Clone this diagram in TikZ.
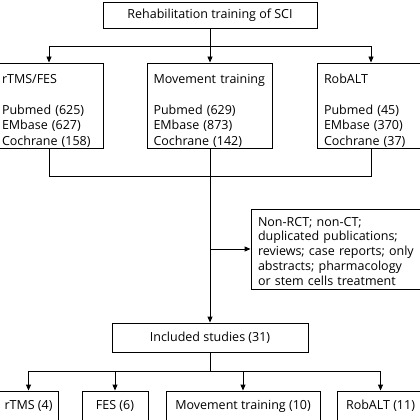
\documentclass[tikz,border=0pt]{standalone}
\usepackage{fontspec}
\setmainfont{Open Sans}
\usetikzlibrary{arrows.meta}
\newcommand\topgap[1]{\rule{0pt}{#1}}
\newcommand\nohyph{\hyphenpenalty10000\relax}
\tikzset{
	box/.style={draw,rectangle,inner sep=0pt,font=\fontsize{12.5}{15.5}\selectfont\nohyph},
	src/.style={box,align=left,inner xsep=7pt,minimum height=85pt},
	res/.style={box,minimum height=30pt}
}

\begin{document}
\begin{tikzpicture}[x=1pt,y=-1pt,line width=0.9pt,>={Triangle[length=6pt,width=5pt]}]
	\useasboundingbox (0,0) rectangle (420,420);
	\node[box,minimum width=214pt,minimum height=26pt] (top) at (210,15) {Rehabilitation training of SCI};
	\node[src,text width=94pt] (src1) at (49,105.5) {\topgap{19pt}rTMS/FES\\[15.5pt]Pubmed~(625)\\EMbase~(627)\\Cochrane~(158)};
	\node[src,text width=113pt,inner xsep=6pt] (src2) at (210,105.5) {\topgap{19pt}Movement~training\\[15.5pt]Pubmed~(629)\\EMbase~(873)\\Cochrane~(142)};
	\node[src,text width=94pt] (src3) at (371,105.5) {\topgap{19pt}RobALT\\[15.5pt]Pubmed~(45)\\EMbase~(370)\\Cochrane~(37)};
	\node[box,align=left,inner xsep=7pt,text width=158pt,minimum height=80pt,font=\fontsize{12.5}{14.8}\selectfont\nohyph] (excl) at (337,249)
		{\topgap{13.5pt}Non-RCT; non-CT;\\duplicated~publications;\\reviews;~case~reports;~only\\abstracts;~pharmacology\\or~stem~cells~treatment};
	\node[box,minimum width=196pt,minimum height=29pt] (incl) at (210,337.5) {Included studies (31)};
	\node[res,minimum width=59pt] (r1) at (28.5,406) {rTMS (4)};
	\node[res,minimum width=66pt] (r2) at (115,406) {FES (6)};
	\node[res,minimum width=154pt] (r3) at (243,406) {Movement training (10)};
	\node[res,minimum width=87pt] (r4) at (380.5,406) {RobALT (11)};
	% connectors
	\coordinate (split) at (210,46);
	\coordinate (merge) at (210,176);
	\coordinate (fork) at (210,371);
	\draw (top) -- (split);
	\draw (src1 |- split) -- (src3 |- split);
	\foreach \n in {src1,src2,src3}
		\draw[->] (\n |- split) -- (\n);
	\draw (src1) -- (src1 |- merge) -- (src3 |- merge) -- (src3);
	\draw[->] (src2) -- (incl);
	\draw[->] (src2 |- excl) -- (excl);
	\draw (incl) -- (fork);
	\draw (r1 |- fork) -- (r4 |- fork);
	\foreach \n in {r1,r2,r3,r4}
		\draw[->] (\n |- fork) -- (\n);
\end{tikzpicture}
\end{document}
